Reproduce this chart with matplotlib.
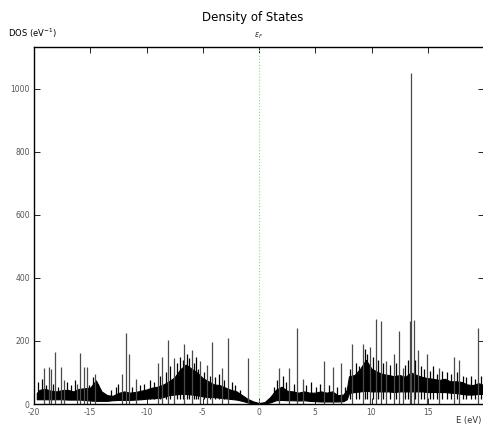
import matplotlib
matplotlib.use("Agg")
import matplotlib.pyplot as plt

# energy grid of the dense band (eV) and its upper / lower envelopes (1/eV)
band_e = [-19.75, -19.5, -19.0, -18.5, -18.0, -17.5, -17.0, -16.5, -16.0, -15.5,
          -15.0, -14.5, -14.0, -13.5, -13.0, -12.5, -12.0, -11.5, -11.0, -10.5,
          -10.0, -9.5, -9.0, -8.5, -8.0, -7.5, -7.0, -6.5, -6.0, -5.5,
          -5.0, -4.5, -4.0, -3.5, -3.0, -2.5, -2.0, -1.5, -1.0, -0.5,
          0.0, 0.5, 1.0, 1.5, 2.0, 2.5, 3.0, 3.5, 4.0, 4.5,
          5.0, 5.5, 6.0, 6.5, 7.0, 7.5, 7.8, 8.0, 8.5, 9.0,
          9.5, 10.0, 10.5, 11.0, 11.5, 12.0, 12.5, 13.0, 13.5, 14.0,
          14.5, 15.0, 15.5, 16.0, 16.5, 17.0, 17.5, 18.0, 18.5, 19.0,
          19.5, 20.0]
band_hi = [35, 45, 48, 42, 40, 44, 45, 40, 48, 50,
           52, 75, 40, 28, 26, 35, 40, 36, 38, 42,
           46, 52, 55, 62, 72, 85, 110, 125, 112, 100,
           82, 72, 62, 60, 52, 45, 40, 28, 16, 8,
           3, 6, 22, 45, 55, 42, 40, 36, 40, 36,
           36, 40, 36, 40, 28, 30, 45, 88, 92, 112,
           140, 112, 102, 95, 92, 88, 92, 86, 100, 92,
           86, 82, 80, 76, 80, 72, 72, 70, 62, 60,
           66, 60]
band_lo = [15, 15, 15, 15, 15, 15, 14, 14, 14, 13,
           11, 10, 10, 10, 12, 13, 13, 13, 14, 15,
           17, 18, 19, 22, 28, 30, 32, 32, 30, 28,
           24, 22, 22, 20, 18, 16, 14, 10, 5, 2,
           0, 2, 5, 12, 13, 12, 12, 11, 12, 10,
           9, 8, 8, 8, 8, 9, 15, 35, 38, 40,
           42, 40, 40, 40, 40, 38, 40, 40, 40, 40,
           40, 38, 38, 38, 38, 36, 35, 32, 30, 30,
           32, 32]

# small peaks sitting on the dense band
minor_e = [-19.6, -19.3, -18.9, -18.3, -17.9, -17.1, -16.7, -16.4, -15.1, -14.8,
           -14.3, -13.2, -12.7, -12.5, -11.3, -10.6, -10.2, -9.7, -9.3, -8.8,
           -8.3, -7.9, -7.3, -7.0, -6.8, -6.4, -6.2, -5.8, -5.6, -5.4,
           -4.9, -4.4, -3.9, -3.6, -3.1, -2.4, -2.1, -1.7, 1.3, 1.6,
           2.1, 2.4, 3.1, 4.2, 4.6, 5.1, 5.4, 6.2, 6.9, 7.6,
           8.1, 8.6, 8.9, 9.4, 9.6, 10.1, 10.6, 11.0, 11.6, 12.2,
           13.0, 13.2, 13.9, 14.4, 14.7, 15.2, 15.5, 15.8, 16.3, 16.7,
           17.1, 17.6, 18.1, 18.4, 18.8, 19.2, 19.7]
minor_h = [70, 80, 60, 65, 55, 70, 60, 75, 60, 85,
           65, 45, 55, 65, 55, 60, 65, 75, 70, 90,
           100, 120, 130, 150, 140, 160, 145, 130, 150, 110,
           100, 90, 85, 95, 75, 70, 60, 45, 55, 75,
           90, 70, 65, 60, 70, 55, 65, 60, 55, 55,
           110, 130, 120, 175, 160, 150, 140, 130, 125, 130,
           125, 140, 140, 120, 110, 105, 120, 95, 105, 100,
           95, 100, 90, 85, 90, 80, 90]

# isolated sharp peaks: energy (eV) and height (1/eV)
peak_e = [-19.1, -18.7, -18.5, -18.1, -17.6, -17.3, -16.2, -15.9, -15.6, -15.3,
          -14.6, -12.2, -11.8, -11.6, -10.9, -9.0, -8.6, -8.05, -7.6, -6.7,
          -6.0, -5.25, -4.6, -4.15, -3.3, -2.8, -1.0, 1.8, 2.7, 3.36,
          3.9, 5.75, 6.6, 7.3, 8.25, 9.2, 9.85, 10.4, 10.8, 11.3,
          12.0, 12.4, 12.8, 13.4, 13.5, 13.8, 14.1, 14.9, 16.0, 17.3,
          17.8, 19.5]
peak_h = [114, 117, 110, 166, 117, 76, 65, 162, 117, 117,
          96, 96, 226, 160, 80, 129, 150, 203, 146, 192,
          170, 135, 125, 196, 114, 210, 146, 114, 114, 241,
          80, 135, 117, 129, 192, 192, 180, 270, 265, 135,
          160, 233, 114, 262, 1051, 267, 171, 160, 114, 150,
          140, 241]

x_ticks = [-20, -15, -10, -5, 0, 5, 10, 15, 20]
y_ticks = [0, 200, 400, 600, 800, 1000]

fig = plt.figure(figsize=(4.83, 4.28), dpi=100)
ax = fig.add_axes([34 / 483, 24 / 428, 450 / 483, 357 / 428])

ax.fill_between(band_e, band_lo, band_hi, color="black", lw=0.8)
ax.vlines(minor_e, 15, minor_h, color="black", lw=0.9)
ax.vlines(peak_e, 0, peak_h, color="#4a4a4a", lw=0.9)
ax.axvline(0, color="#8fd88f", lw=0.8, ls=":")

ax.set_xlim(-20, 20)
ax.set_ylim(0, 1133)
ax.set_xticks(x_ticks)
ax.set_yticks(y_ticks)
ax.set_xticklabels([str(t) for t in x_ticks[:-1]] + [""])
ax.tick_params(direction="in", length=4, width=0.6, labelsize=5.5,
               labelcolor="#555555", top=True, right=True, pad=3)
for s in ax.spines.values():
    s.set_linewidth(1.0)

fig.text(253, 428 - 18, "Density of States", transform=None, ha="center",
         va="center", fontsize=8.5)
fig.text(8, 428 - 33, "DOS (eV$^{-1}$)", transform=None, ha="left",
         va="center", fontsize=6)
fig.text(259, 428 - 36, r"$\varepsilon_F$", transform=None, ha="center",
         va="center", fontsize=5.5, color="#333333")
fig.text(481, 428 - 421, "E (eV)", transform=None, ha="right",
         va="center", fontsize=6, color="#333333")

fig.savefig("out.png", dpi=100)
